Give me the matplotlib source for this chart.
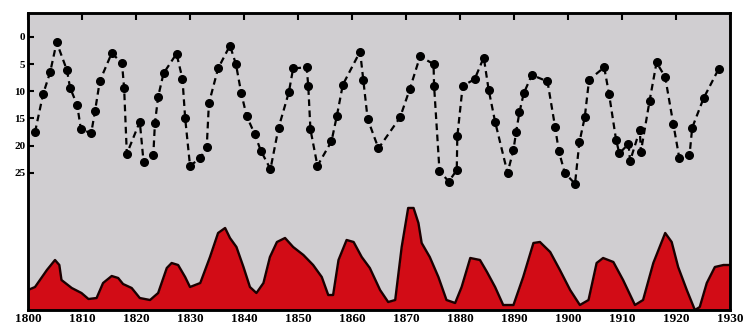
import matplotlib
matplotlib.use('Agg')
import matplotlib.pyplot as plt

# upper series (inverted scale)
upper_years = [1801.3, 1802.8, 1804.1, 1805.3, 1807.2, 1807.8, 1809.1, 1809.8,
               1811.7, 1812.4, 1813.3, 1815.5, 1817.4, 1817.8, 1818.3, 1820.7,
               1821.4, 1823.2, 1823.5, 1824.1, 1825.1, 1827.5, 1828.6, 1829.1,
               1830.0, 1831.9, 1833.1, 1833.5, 1835.2, 1837.4, 1838.5, 1839.5,
               1840.5, 1842.0, 1843.1, 1844.9, 1846.4, 1848.3, 1849.1, 1851.6,
               1851.9, 1852.3, 1853.6, 1856.2, 1857.2, 1858.3, 1861.5, 1862.1,
               1862.9, 1864.9, 1868.9, 1870.7, 1872.6, 1875.1, 1875.2, 1876.2,
               1877.9, 1879.4, 1879.5, 1880.5, 1882.7, 1884.4, 1885.3, 1886.5,
               1888.8, 1889.9, 1890.4, 1891.0, 1891.8, 1893.3, 1896.2, 1897.6,
               1898.3, 1899.4, 1901.3, 1902.1, 1903.1, 1903.9, 1906.7, 1907.6,
               1908.9, 1909.5, 1911.2, 1911.5, 1913.3, 1913.5, 1915.1, 1916.4,
               1918.0, 1919.5, 1920.6, 1922.5, 1923.0, 1925.1, 1927.9]
upper_vals = [17.5, 10.5, 6.5, 1.0, 6.1, 9.4, 12.5, 17.0,
              17.7, 13.7, 8.1, 3.0, 4.8, 9.4, 21.5, 15.6,
              23.0, 21.8, 15.9, 11.0, 6.7, 3.1, 7.7, 14.9,
              23.7, 22.3, 20.2, 12.2, 5.8, 1.6, 5.0, 10.4,
              14.6, 17.9, 20.9, 24.3, 16.7, 10.2, 5.8, 5.6,
              9.0, 17.0, 23.7, 19.2, 14.5, 8.8, 2.7, 8.0,
              15.1, 20.5, 14.8, 9.6, 3.6, 5.0, 9.0, 24.6,
              26.6, 24.5, 18.3, 9.0, 7.8, 3.8, 9.7, 15.6,
              25.0, 20.8, 17.4, 13.9, 10.4, 7.0, 8.2, 16.5,
              21.0, 25.0, 27.0, 19.4, 14.8, 7.9, 5.6, 10.5,
              18.9, 21.4, 19.7, 22.8, 17.1, 21.1, 11.8, 4.7,
              7.4, 16.0, 22.2, 21.8, 16.7, 11.3, 5.9]

# lower series (red area)
spot_years = [1800.0, 1801.3, 1803.5, 1805.0, 1805.8, 1806.2, 1808.1, 1809.9,
              1811.2, 1812.7, 1813.9, 1815.5, 1816.7, 1817.6, 1819.2, 1820.7,
              1822.6, 1824.1, 1825.7, 1826.6, 1827.8, 1829.1, 1830.0, 1831.9,
              1833.7, 1835.2, 1836.5, 1837.4, 1838.6, 1839.9, 1841.1, 1842.3,
              1843.6, 1844.8, 1846.1, 1847.6, 1849.1, 1851.0, 1852.8, 1854.4,
              1855.6, 1856.5, 1857.5, 1859.0, 1860.3, 1861.8, 1863.3, 1865.2,
              1866.7, 1868.0, 1869.2, 1870.4, 1871.4, 1872.3, 1872.9, 1874.4,
              1876.0, 1877.5, 1879.1, 1880.3, 1881.9, 1883.7, 1885.0, 1886.5,
              1888.0, 1889.9, 1891.7, 1893.6, 1894.8, 1896.7, 1898.5, 1900.4,
              1902.2, 1903.8, 1905.3, 1906.5, 1908.4, 1910.2, 1912.4, 1913.9,
              1915.8, 1918.0, 1919.2, 1920.4, 1922.0, 1923.5, 1924.4, 1925.7,
              1927.2, 1928.8, 1930.0]
spot_vals = [20, 23, 40, 50, 45, 30, 22, 17,
             11, 12, 27, 34, 32, 26, 22, 12,
             10, 17, 42, 47, 45, 33, 23, 27,
             53, 77, 82, 72, 63, 43, 23, 17,
             27, 53, 68, 72, 63, 55, 45, 33,
             15, 15, 50, 70, 68, 53, 42, 20,
             8, 10, 63, 102, 102, 87, 67, 53,
             33, 10, 7, 23, 52, 50, 38, 23,
             5, 5, 33, 67, 68, 58, 40, 20,
             5, 10, 47, 52, 48, 30, 5, 10,
             47, 77, 68, 43, 20, 0, 3, 27,
             43, 45, 45]

upper_ticks = [0, 5, 10, 15, 20, 25]
decades = list(range(1800, 1931, 10))

BG = '#d0ced1'

fig = plt.figure(figsize=(7.43, 3.31), dpi=100)
fig.patch.set_facecolor('white')
ax = fig.add_axes([0.0377, 0.0634, 0.9448, 0.8976])

# red area on a twin axis (no ticks)
ax2 = ax.twinx()
ax2.fill_between(spot_years, spot_vals, 0, color='#d20c16', linewidth=0)
ax2.plot(spot_years, spot_vals, color='#1a0000', linewidth=1.7)
ax2.set_ylim(0, 297)
ax2.set_yticks([])

ax.plot(upper_years, upper_vals, color='black', linestyle=(0, (3, 2)),
        linewidth=1.6, marker='o', markersize=5.5, zorder=5)
ax.set_xlim(1800, 1930)
ax.set_ylim(50.2, -4.4)
ax.set_yticks(upper_ticks)
ax.set_yticklabels([str(t) for t in upper_ticks], family='Liberation Serif',
                   fontweight='bold', fontsize=8)
ax.set_xticks(decades)
ax.set_xticklabels([str(d) for d in decades], family='Liberation Serif',
                   fontweight='bold', fontsize=9.5)
ax.tick_params(axis='y', direction='in', length=4, width=1.5, pad=2)
ax.tick_params(axis='x', which='both', bottom=False, top=True, direction='in',
               length=5, width=1.5, pad=2)

# keep the dotted series above the red area
ax.set_zorder(ax2.get_zorder() + 1)
ax.patch.set_visible(False)
ax2.patch.set_visible(True)
ax2.patch.set_facecolor(BG)

for a in (ax, ax2):
    for s in a.spines.values():
        s.set_linewidth(1.8)
        s.set_color('black')

plt.savefig('out.png', dpi=100)
